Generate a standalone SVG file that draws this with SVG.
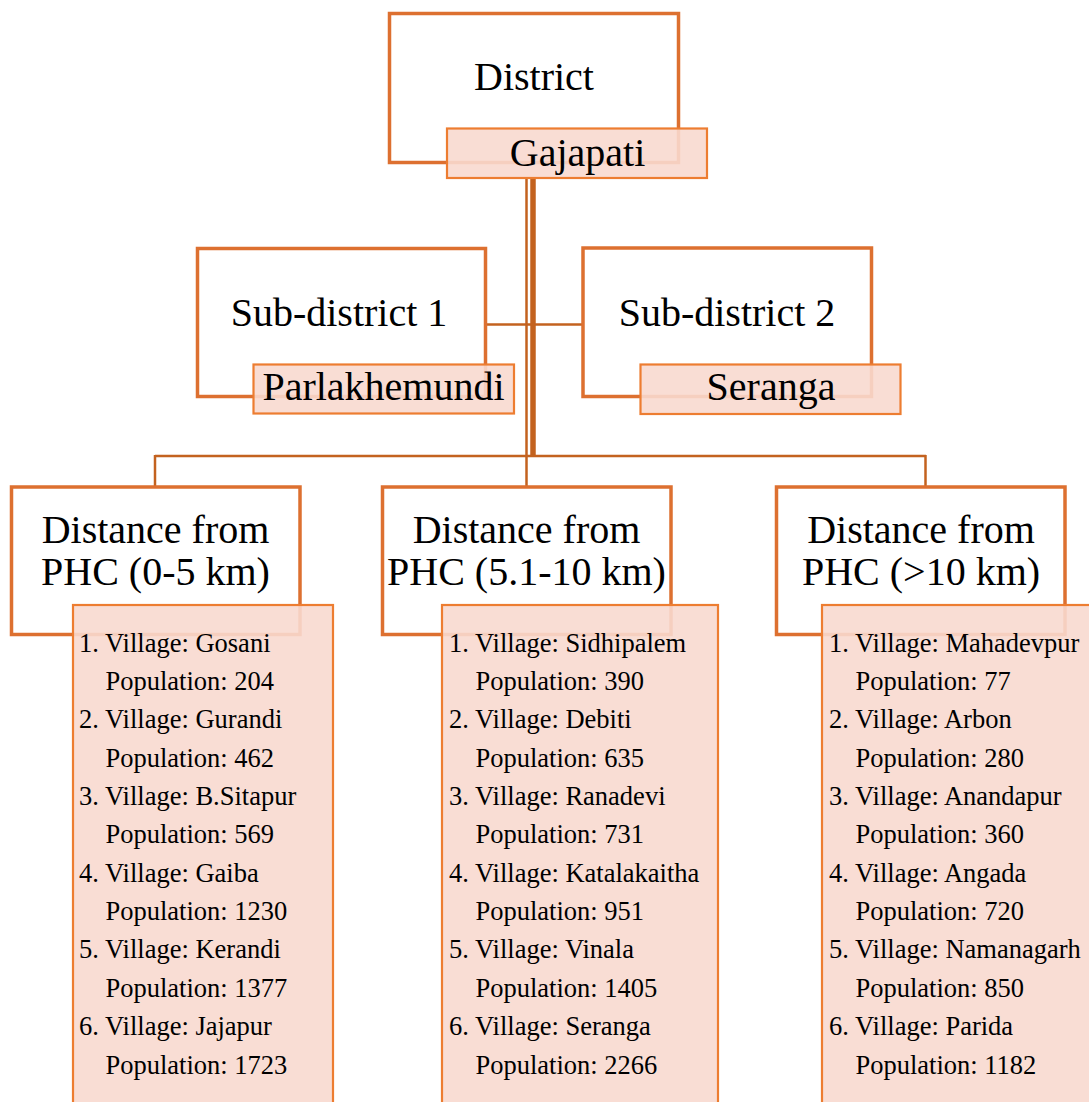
<svg xmlns="http://www.w3.org/2000/svg" width="1089" height="1102" viewBox="0 0 1089 1102">
<style>
.box{fill:#FFFFFF;stroke:#DD7030;stroke-width:3.5}
.lab{fill:#F8D9CF;fill-opacity:0.9;stroke:#ED7D31;stroke-width:2.2}
.con{stroke:#C3621F;fill:none}
.t40{font-family:"Liberation Serif","Times New Roman",serif;font-size:40px;fill:#000;text-anchor:middle}
.t26{font-family:"Liberation Serif","Times New Roman",serif;font-size:26.5px;fill:#000}
</style>
<rect width="1089" height="1102" fill="#FFFFFF"/>
<g id="connectors">
  <line class="con" x1="526.5" y1="178" x2="526.5" y2="487" stroke-width="2.5"/>
  <line class="con" x1="533" y1="178" x2="533" y2="456" stroke-width="5.5"/>
  <line class="con" x1="486" y1="324.5" x2="583" y2="324.5" stroke-width="2.5"/>
  <line class="con" x1="155" y1="456" x2="926" y2="456" stroke-width="2.5"/>
  <line class="con" x1="155" y1="455" x2="155" y2="487" stroke-width="2.5"/>
  <line class="con" x1="925.5" y1="455" x2="925.5" y2="487" stroke-width="2.5"/>
</g>
<g id="district">
  <rect class="box" x="389.5" y="13.5" width="289" height="149"/>
  <text class="t40" x="534" y="90">District</text>
  <rect class="lab" x="447" y="128.5" width="260" height="49.5"/>
  <text class="t40" x="577.5" y="165.5">Gajapati</text>
</g>
<g id="subdistrict1">
  <rect class="box" x="197.5" y="248.5" width="288" height="148"/>
  <text class="t40" x="339" y="326">Sub-district 1</text>
  <rect class="lab" x="253.5" y="364.5" width="260.5" height="49"/>
  <text class="t40" x="383.5" y="400">Parlakhemundi</text>
</g>
<g id="subdistrict2">
  <rect class="box" x="583" y="248" width="288.5" height="148.5"/>
  <text class="t40" x="727" y="326">Sub-district 2</text>
  <rect class="lab" x="640.5" y="364.5" width="260" height="49.5"/>
  <text class="t40" x="771" y="400">Seranga</text>
</g>
<g id="distance1">
  <rect class="box" x="11.5" y="487" width="288.5" height="147.5"/>
  <text class="t40" x="155.5" y="543">Distance from</text>
  <text class="t40" x="155.5" y="585">PHC (0-5 km)</text>
  <rect class="lab" x="73" y="605" width="260" height="510"/>
  <text class="t26">
    <tspan x="79" y="651.5">1. Village: Gosani</tspan>
    <tspan x="105.5" y="689.9">Population: 204</tspan>
    <tspan x="79" y="728.2">2. Village: Gurandi</tspan>
    <tspan x="105.5" y="766.6">Population: 462</tspan>
    <tspan x="79" y="804.9">3. Village: B.Sitapur</tspan>
    <tspan x="105.5" y="843.3">Population: 569</tspan>
    <tspan x="79" y="881.7">4. Village: Gaiba</tspan>
    <tspan x="105.5" y="920">Population: 1230</tspan>
    <tspan x="79" y="958.4">5. Village: Kerandi</tspan>
    <tspan x="105.5" y="996.7">Population: 1377</tspan>
    <tspan x="79" y="1035.1">6. Village: Jajapur</tspan>
    <tspan x="105.5" y="1073.5">Population: 1723</tspan>
  </text>
</g>
<g id="distance2">
  <rect class="box" x="382.5" y="487" width="288.5" height="147.5"/>
  <text class="t40" x="526.5" y="543">Distance from</text>
  <text class="t40" x="526.5" y="585">PHC (5.1-10 km)</text>
  <rect class="lab" x="442" y="605" width="276" height="510"/>
  <text class="t26">
    <tspan x="449" y="651.5">1. Village: Sidhipalem</tspan>
    <tspan x="475.5" y="689.9">Population: 390</tspan>
    <tspan x="449" y="728.2">2. Village: Debiti</tspan>
    <tspan x="475.5" y="766.6">Population: 635</tspan>
    <tspan x="449" y="804.9">3. Village: Ranadevi</tspan>
    <tspan x="475.5" y="843.3">Population: 731</tspan>
    <tspan x="449" y="881.7">4. Village: Katalakaitha</tspan>
    <tspan x="475.5" y="920">Population: 951</tspan>
    <tspan x="449" y="958.4">5. Village: Vinala</tspan>
    <tspan x="475.5" y="996.7">Population: 1405</tspan>
    <tspan x="449" y="1035.1">6. Village: Seranga</tspan>
    <tspan x="475.5" y="1073.5">Population: 2266</tspan>
  </text>
</g>
<g id="distance3">
  <rect class="box" x="776.5" y="487" width="288.5" height="147.5"/>
  <text class="t40" x="921" y="543">Distance from</text>
  <text class="t40" x="921" y="585">PHC (&gt;10 km)</text>
  <rect class="lab" x="822" y="605" width="280" height="510"/>
  <text class="t26">
    <tspan x="829" y="651.5">1. Village: Mahadevpur</tspan>
    <tspan x="855.5" y="689.9">Population: 77</tspan>
    <tspan x="829" y="728.2">2. Village: Arbon</tspan>
    <tspan x="855.5" y="766.6">Population: 280</tspan>
    <tspan x="829" y="804.9">3. Village: Anandapur</tspan>
    <tspan x="855.5" y="843.3">Population: 360</tspan>
    <tspan x="829" y="881.7">4. Village: Angada</tspan>
    <tspan x="855.5" y="920">Population: 720</tspan>
    <tspan x="829" y="958.4">5. Village: Namanagarh</tspan>
    <tspan x="855.5" y="996.7">Population: 850</tspan>
    <tspan x="829" y="1035.1">6. Village: Parida</tspan>
    <tspan x="855.5" y="1073.5">Population: 1182</tspan>
  </text>
</g>
</svg>
